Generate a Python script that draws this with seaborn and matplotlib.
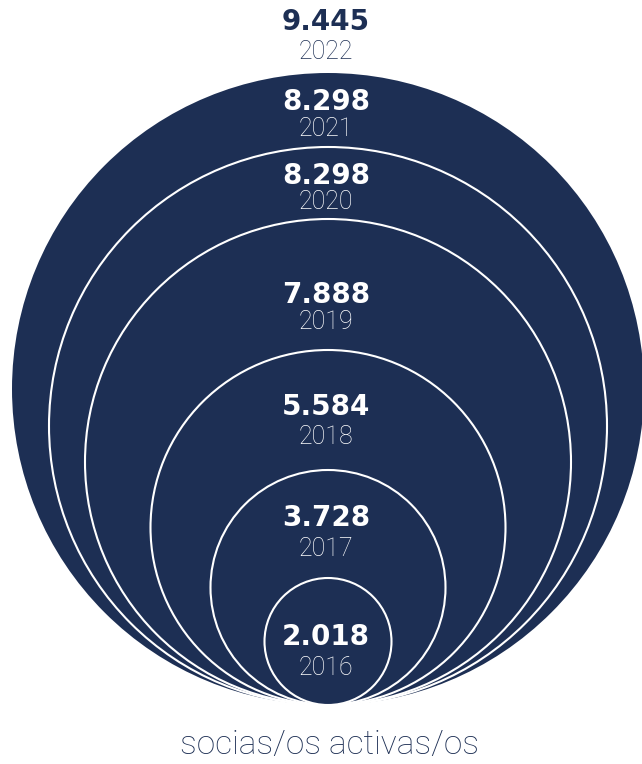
import matplotlib
matplotlib.use("Agg")
import matplotlib.pyplot as plt
import seaborn as sns
import pandas as pd
import numpy as np

# datos
years = ["2022", "2021", "2020", "2019", "2018", "2017", "2016"]
socias = [9445, 8298, 8298, 7888, 5584, 3728, 2018]
subtitulo = "socias/os activas/os"

# layout (pixeles) - los circulos no son proporcionales a los valores
ring_years = ["2022", "2021", "2020", "2019", "2018", "2017"]
ring_radius = [316, 279, 243, 177.5, 117.5, 63.5]
value_y = [22, 102, 176, 295, 407, 518, 637]
year_y = [52, 129, 202, 322, 437, 549, 668]
cx, bottom = 328, 705

navy = "#1d2f54"

sns.set_theme(style="white")
plt.rcParams["font.family"] = ["Roboto", "DejaVu Sans"]

W, H, DPI = 642, 764, 100
fig = plt.figure(figsize=(W / DPI, H / DPI), dpi=DPI)
ax = fig.add_axes([0, 0, 1, 1])
ax.set_xlim(0, W)
ax.set_ylim(H, 0)
ax.axis("off")

rings = pd.DataFrame({"year": ring_years, "r": ring_radius})
rings["x"] = cx
rings["y"] = bottom - rings["r"]
px2pt = 72 / DPI
sizes = (2 * rings["r"] * px2pt) ** 2
edges = [navy] + ["white"] * (len(rings) - 1)
lws = [0] + [1.5] * (len(rings) - 1)

sns.scatterplot(data=rings, x="x", y="y", s=sizes, color=navy,
                edgecolor=edges, linewidth=lws, legend=False, ax=ax, zorder=2)

for i, (yr, v) in enumerate(zip(years, socias)):
    col = navy if i == 0 else "white"
    txt = f"{v:,}".replace(",", ".")
    ax.text(326, value_y[i], txt, ha="center", va="center", color=col,
            fontsize=20, fontweight="bold", family="DejaVu Sans", zorder=3)
    ax.text(326, year_y[i], yr, ha="center", va="center", color=col,
            fontsize=18, fontweight="light", zorder=3)

ax.text(330, 745, subtitulo, ha="center", va="center", color=navy,
        fontsize=24, fontweight="light")

fig.savefig("out.png", dpi=DPI)
